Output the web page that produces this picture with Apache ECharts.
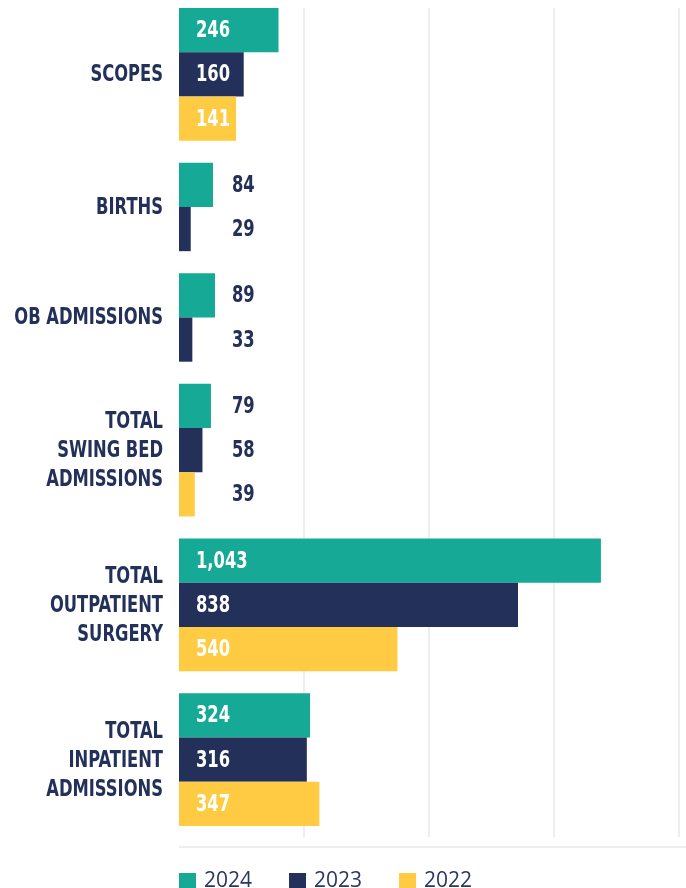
<!DOCTYPE html>
<html>
<head>
<meta charset="utf-8">
<title>Volumes</title>
<script src="https://cdn.jsdelivr.net/npm/echarts@6/dist/echarts.min.js"></script>
<style>
  html, body { margin: 0; padding: 0; background: #fff; }
  #chart { width: 686px; height: 888px; }
</style>
</head>
<body>
<div id="chart"></div>
<script>
// 数据
const categories = [
  'SCOPES',
  'BIRTHS',
  'OB ADMISSIONS',
  'TOTAL\nSWING BED\nADMISSIONS',
  'TOTAL\nOUTPATIENT\nSURGERY',
  'TOTAL\nINPATIENT\nADMISSIONS'
]
const years = ['2024', '2023', '2022']
const values2024 = [246, 84, 89, 79, 1043, 324]
const values2023 = [160, 29, 33, 58, 838, 316]
const values2022 = [141, null, null, 39, 540, 347]

const colors = ['#16aa96', '#22305a', '#fecb42']
// 没有窄体字，用 DejaVu Condensed 再横向压缩
const labelFont = '"DejaVu Sans Condensed", "DejaVu Sans", sans-serif'
const squeeze = 0.79

// 每组里只排存在的柱子：柱高 2 格，组间空 1 格
const allValues = [values2024, values2023, values2022]
const seriesData = [[], [], []]
const groupCenters = []
let cursor = 0
categories.forEach((name, i) => {
  const start = cursor
  allValues.forEach((vals, s) => {
    if (vals[i] == null) return
    seriesData[s].push([vals[i], cursor, i])
    cursor += 2
  })
  groupCenters.push([(start + cursor) / 2, i])
  cursor += 1
})
const slotMax = cursor - 0.5

function renderBar(color) {
  return function (params, api) {
    const value = api.value(0)
    const p0 = api.coord([0, api.value(1)])
    const p1 = api.coord([value, api.value(1) + 2])
    const inside = value >= 120
    return {
      type: 'group',
      children: [
        {
          type: 'rect',
          shape: { x: p0[0], y: p0[1], width: p1[0] - p0[0], height: p1[1] - p0[1] },
          style: { fill: color }
        },
        {
          type: 'text',
          x: p0[0] + (inside ? 17 : 53),
          y: (p0[1] + p1[1]) / 2 + 1,
          scaleX: squeeze,
          style: {
            text: value.toLocaleString('en-US'),
            fill: inside ? '#fff' : '#22305a',
            fontSize: 23,
            fontWeight: 'bold',
            fontFamily: labelFont,
            align: 'left',
            verticalAlign: 'middle'
          }
        }
      ]
    }
  }
}

function renderCategory(params, api) {
  const p = api.coord([0, api.value(0)])
  return {
    type: 'text',
    x: p[0] - 16,
    y: p[1] + 1,
    scaleX: squeeze,
    style: {
      text: categories[api.value(1)],
      fill: '#22305a',
      fontSize: 23,
      fontWeight: 'bold',
      fontFamily: labelFont,
      lineHeight: 29,
      align: 'right',
      verticalAlign: 'middle'
    }
  }
}

const chart = echarts.init(document.getElementById('chart'))
chart.setOption({
  animation: false,
  grid: { left: 179, top: 8, width: 500, bottom: 51 },
  legend: {
    data: years,
    left: 179,
    top: 871,
    padding: 0,
    icon: 'rect',
    itemWidth: 17,
    itemHeight: 17,
    itemGap: 37,
    textStyle: {
      color: '#2b3760',
      fontSize: 21,
      fontFamily: '"Open Sans", sans-serif',
      padding: [0, 0, 0, 3]
    }
  },
  xAxis: {
    type: 'value',
    min: 0,
    max: 1236,
    interval: 309,
    axisLabel: { show: false },
    axisTick: { show: false },
    axisLine: { show: false },
    splitLine: { show: true, showMinLine: false, lineStyle: { color: '#eeeeee', width: 2 } }
  },
  yAxis: {
    type: 'value',
    inverse: true,
    min: 0,
    max: slotMax,
    show: false
  },
  graphic: [
    {
      type: 'line',
      shape: { x1: 179, y1: 847, x2: 686, y2: 847 },
      style: { stroke: '#eeeeee', lineWidth: 2 }
    }
  ],
  series: [
    ...years.map((year, s) => ({
      name: year,
      type: 'custom',
      itemStyle: { color: colors[s] },
      renderItem: renderBar(colors[s]),
      encode: { x: 0, y: 1 },
      clip: false,
      data: seriesData[s]
    })),
    {
      name: 'labels',
      type: 'custom',
      silent: true,
      renderItem: renderCategory,
      encode: { y: 0 },
      clip: false,
      data: groupCenters
    }
  ]
})
</script>
</body>
</html>
